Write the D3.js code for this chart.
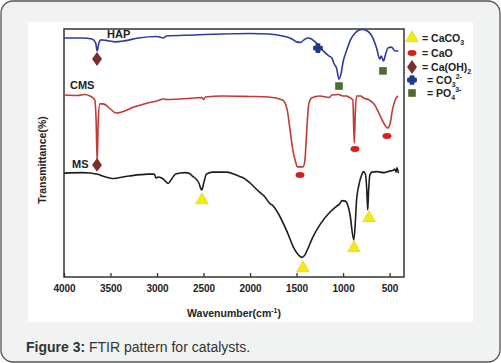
<!doctype html>
<html lang="en">
  <head>
    <meta charset="UTF-8" />
    <title>FTIR pattern for catalysts</title>
    <style>
      html, body { margin: 0; padding: 0; background: #fff; }
      svg { display: block; font-family: "Liberation Sans", Arial, sans-serif; }
      .tick text { font-size: 10px; font-weight: bold; fill: #222; }
      .lbl { font-size: 11px; font-weight: bold; fill: #222; }
      .leg { font-size: 10.5px; font-weight: bold; fill: #222; }
    </style>
  </head>
  <body>
    <div id="chart"></div>
    <script src="https://cdn.jsdelivr.net/npm/d3@7"></script>
    <script>
      // spectra: [wavenumber, transmittance (arbitrary offset %)]
      const hap = [
        [4000, 96.4], [3800, 96.4], [3700, 96.0], [3660, 94.4], [3643, 91.1], [3625, 94.4],
        [3600, 95.6], [3550, 95.4], [3450, 94.8], [3350, 95.2], [3200, 96.4], [3000, 97.0],
        [2930, 96.4], [2900, 97.2], [2600, 97.6], [2300, 98.0], [2000, 98.2], [1800, 98.0],
        [1650, 97.2], [1550, 96.0], [1500, 94.8], [1460, 94.6], [1420, 95.6], [1380, 96.4],
        [1340, 96.0], [1300, 94.8], [1250, 92.7], [1200, 90.7], [1150, 89.1], [1120, 88.3],
        [1100, 86.3], [1090, 85.5], [1070, 84.3], [1045, 79.8], [1020, 82.3], [1000, 86.7],
        [960, 91.5], [920, 95.6], [870, 98.4], [800, 99.8], [740, 99.2], [680, 96.4],
        [640, 92.3], [605, 87.9], [590, 89.1], [565, 87.1], [545, 89.5], [520, 92.3],
        [480, 92.7], [440, 91.1], [405, 91.1]
      ];
      const cms = [
        [4000, 73.4], [3850, 73.2], [3780, 73.6], [3720, 73.0], [3670, 71.4], [3655, 63.3],
        [3643, 46.4], [3632, 63.3], [3615, 69.8], [3580, 69.8], [3500, 67.7], [3440, 66.1],
        [3380, 66.5], [3250, 68.5], [3100, 70.2], [3000, 71.0], [2930, 71.8], [2900, 71.6],
        [2600, 72.2], [2520, 72.4], [2500, 71.6], [2480, 72.6], [2300, 73.0], [2000, 72.8],
        [1800, 72.6], [1650, 71.4], [1600, 67.3], [1570, 59.3], [1540, 51.2], [1510, 46.4],
        [1490, 44.4], [1430, 44.4], [1410, 47.2], [1390, 59.3], [1370, 69.4], [1340, 72.2],
        [1250, 73.0], [1150, 72.4], [1120, 73.4], [1050, 73.6], [1000, 73.0], [960, 73.0],
        [940, 72.6], [895, 71.4], [880, 54.0], [868, 66.9], [855, 73.0], [810, 73.0],
        [780, 72.2], [720, 71.4], [660, 69.4], [620, 66.5], [580, 63.3], [545, 60.9],
        [520, 60.1], [495, 61.7], [470, 67.3], [440, 71.4], [410, 73.0]
      ];
      const ms = [
        [4000, 41.9], [3800, 42.1], [3650, 41.5], [3550, 40.3], [3480, 39.7], [3400, 40.1],
        [3300, 40.7], [3100, 41.5], [3030, 41.5], [3010, 39.9], [2990, 40.3], [2950, 39.9],
        [2920, 39.1], [2880, 37.7], [2850, 39.1], [2800, 41.5], [2700, 42.1], [2650, 41.7],
        [2620, 40.7], [2590, 39.9], [2550, 37.9], [2520, 35.1], [2495, 38.3], [2470, 41.5],
        [2400, 42.3], [2250, 42.3], [2150, 41.1], [2050, 39.5], [2000, 37.9], [1900, 34.3],
        [1850, 32.7], [1780, 29.4], [1760, 29.0], [1700, 25.8], [1600, 18.1], [1530, 11.7],
        [1470, 8.5], [1440, 7.9], [1410, 8.9], [1380, 11.3], [1330, 15.7], [1250, 21.0],
        [1150, 25.8], [1080, 28.2], [1040, 29.4], [1010, 30.8], [975, 30.6], [950, 29.0],
        [925, 25.0], [885, 14.9], [870, 21.0], [855, 31.0], [830, 37.1], [800, 41.1],
        [780, 42.5], [760, 41.5], [745, 35.1], [735, 27.0], [725, 35.1], [712, 41.1],
        [690, 42.3], [640, 42.5], [560, 42.1], [500, 42.7], [460, 43.0], [445, 43.5],
        [430, 42.3], [420, 44.0], [405, 41.9]
      ];

      // peak markers: [wavenumber, transmittance]
      const caco3Marks = [[2517, 31.0], [1431, 3.6], [883, 11.7], [721, 23.8]];
      const caoMarks = [[1463, 41.1], [872, 51.6], [528, 56.9]];
      const caoh2Marks = [[3645, 87.9], [3645, 45.2]];
      const co3Marks = [[1270, 92.3]];
      const po4Marks = [[1044, 77.0], [571, 83.1]];

      const xTicks = [4000, 3500, 3000, 2500, 2000, 1500, 1000, 500];

      const W = 501, H = 363;
      const svg = d3.select("#chart").append("svg").attr("width", W).attr("height", H);

      // card background
      svg.append("rect").attr("x", 1).attr("y", 1).attr("width", W - 2).attr("height", H - 2)
        .attr("rx", 12).attr("fill", "#f1f3f2").attr("stroke", "#555").attr("stroke-width", 1.3);
      svg.append("rect").attr("x", 28).attr("y", 22).attr("width", 445).attr("height", 300)
        .attr("fill", "#fff");

      const pL = 64, pR = 404, pT = 29, pB = 277;
      const x = d3.scaleLinear().domain([4000, 345]).range([pL, pR]);
      const y = d3.scaleLinear().domain([0, 100]).range([pB, pT]);

      // frame
      svg.append("rect").attr("x", pL).attr("y", pT).attr("width", pR - pL).attr("height", pB - pT)
        .attr("fill", "none").attr("stroke", "#333").attr("stroke-width", 1.5);

      const xAxis = d3.axisBottom(x).tickValues(xTicks).tickFormat(d3.format("d"))
        .tickSizeInner(-4).tickSizeOuter(0).tickPadding(8);
      const gx = svg.append("g").attr("transform", `translate(0,${pB})`).call(xAxis);
      gx.select(".domain").remove();
      gx.selectAll(".tick line").attr("stroke", "#333").attr("stroke-width", 1.3);

      const xt = svg.append("text").attr("class", "lbl").attr("x", 234).attr("y", 317)
        .attr("text-anchor", "middle").style("font-size", "10.5px");
      xt.append("tspan").text("Wavenumber(cm");
      xt.append("tspan").attr("dy", -4).style("font-size", "7px").text("-1");
      xt.append("tspan").attr("dy", 4).text(")");

      svg.append("text").attr("class", "lbl").style("font-size", "10.5px")
        .attr("transform", "translate(46,160) rotate(-90)").attr("text-anchor", "middle")
        .text("Transmittance(%)");

      const line = d3.line().x(d => x(d[0])).y(d => y(d[1])).curve(d3.curveMonotoneX);
      const series = [
        { data: hap, color: "#2c3b9c" },
        { data: cms, color: "#c23a36" },
        { data: ms, color: "#1e1e1e" }
      ];
      svg.selectAll("path.spec").data(series).enter().append("path").attr("class", "spec")
        .attr("d", d => line(d.data)).attr("fill", "none").attr("stroke", d => d.color)
        .attr("stroke-width", 1.6).attr("stroke-linejoin", "round");

      // curve labels
      svg.append("text").attr("class", "lbl").attr("x", 107).attr("y", 38).text("HAP");
      svg.append("text").attr("class", "lbl").attr("x", 70).attr("y", 89).text("CMS");
      svg.append("text").attr("class", "lbl").attr("x", 72).attr("y", 168).text("MS");

      // marker drawers
      const drawTri = (g, cx, cy) => g.append("path")
        .attr("d", d3.symbol().type(d3.symbolTriangle).size(70)())
        .attr("transform", `translate(${cx},${cy})`)
        .attr("fill", "#f4ea12").attr("stroke", "#d8cc30").attr("stroke-width", 0.6);
      const drawEll = (g, cx, cy) => g.append("ellipse").attr("cx", cx).attr("cy", cy)
        .attr("rx", 4.5).attr("ry", 3).attr("fill", "#d91e1e");
      const drawDia = (g, cx, cy) => g.append("path")
        .attr("d", d3.symbol().type(d3.symbolDiamond).size(55)())
        .attr("transform", `translate(${cx},${cy}) scale(1.25,1)`)
        .attr("fill", "#7b2f2c");
      const drawCross = (g, cx, cy) => g.append("path")
        .attr("d", d3.symbol().type(d3.symbolCross).size(30)())
        .attr("transform", `translate(${cx},${cy})`)
        .attr("fill", "#1d3c86").attr("stroke", "#1d3c86").attr("stroke-width", 2.4)
        .attr("stroke-linejoin", "round");
      const drawSq = (g, cx, cy) => g.append("rect").attr("x", cx - 3.8).attr("y", cy - 3.8)
        .attr("width", 7.6).attr("height", 7.6).attr("fill", "#4f6b32");

      const mk = svg.append("g");
      caco3Marks.forEach(d => drawTri(mk, x(d[0]), y(d[1])));
      caoMarks.forEach(d => drawEll(mk, x(d[0]), y(d[1])));
      caoh2Marks.forEach(d => drawDia(mk, x(d[0]), y(d[1])));
      co3Marks.forEach(d => drawCross(mk, x(d[0]), y(d[1])));
      po4Marks.forEach(d => drawSq(mk, x(d[0]), y(d[1])));

      // legend
      const lg = svg.append("g");
      const legendRows = [
        { draw: drawTri, base: "CaCO", sub: "3", sup: "", tx: 422 },
        { draw: drawEll, base: "CaO", sub: "", sup: "", tx: 422 },
        { draw: drawDia, base: "Ca(OH)", sub: "2", sup: "", tx: 422 },
        { draw: drawCross, base: "CO", sub: "3", sup: "2-", tx: 427 },
        { draw: drawSq, base: "PO", sub: "4", sup: "3-", tx: 427 }
      ];
      const rowY = [38, 53, 67, 80, 93];
      legendRows.forEach((r, i) => {
        const cy = rowY[i];
        r.draw(lg, 412, cy);
        const t = lg.append("text").attr("class", "leg").attr("x", r.tx).attr("y", cy + 4)
          .text("= " + r.base);
        if (r.sub) {
          t.append("tspan").attr("dy", 3).style("font-size", "7px").text(r.sub);
        }
        if (r.sup) {
          t.append("tspan").attr("dy", -8).style("font-size", "7px").text(r.sup);
        }
      });

      // caption
      const cap = svg.append("text").attr("x", 26).attr("y", 352).style("font-size", "14px").attr("fill", "#333");
      cap.append("tspan").style("font-weight", "bold").text("Figure 3:");
      cap.append("tspan").text(" FTIR pattern for catalysts.");
    </script>
  </body>
</html>
